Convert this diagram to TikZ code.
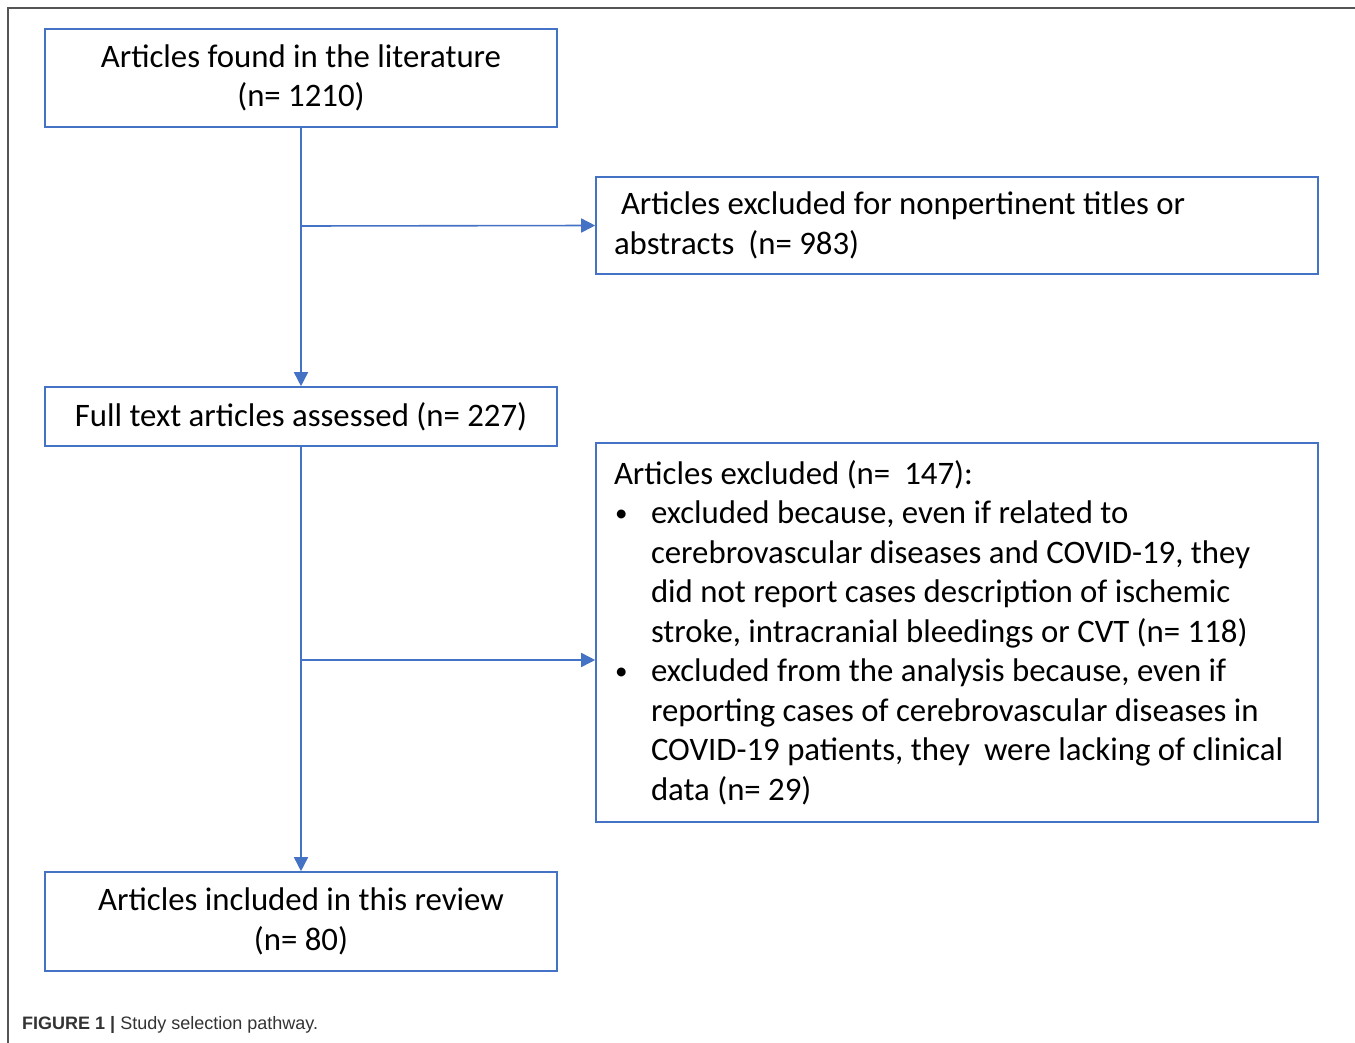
\documentclass[tikz,border=0pt]{standalone}
\usepackage{fontspec}
\setmainfont{Carlito}
\newfontfamily\capfont{Liberation Sans}
\usetikzlibrary{arrows.meta}
\definecolor{boxblue}{HTML}{4472C4}
\definecolor{framegray}{HTML}{555555}
\definecolor{captxt}{HTML}{333333}
\newcommand{\mybul}{\makebox[37pt][l]{\hspace*{1pt}\raisebox{2pt}{\fontsize{25pt}{25pt}\selectfont •}}}
\begin{document}
\begin{tikzpicture}[x=1pt,y=-1pt,
  box/.style={draw=boxblue, line width=1.6pt, inner sep=0pt, font=\fontsize{32.8pt}{39.5pt}\selectfont},
  cbox/.style={box, align=center},
  lbox/.style={box, align=flush left, inner xsep=18pt},
  arr/.style={draw=boxblue, line width=1.6pt, -{Triangle[length=14pt,width=14pt]}},
  conn/.style={draw=boxblue, line width=1.6pt}]
\useasboundingbox (0,0) rectangle (1355,1043);
% frame
\draw[framegray, line width=1.5pt] (1355,8) -- (8,8) -- (8,1043);
% boxes
\node[cbox, minimum width=512pt, minimum height=98pt] (a) at (301,78) {Articles found in the literature\\(n= 1210)};
\node[lbox, minimum width=722pt, minimum height=97pt, text width=686pt] (b) at (957,225.5) {\hspace*{7pt}Articles excluded for nonpertinent titles or\\abstracts\hspace*{14pt}(n= 983)};
\node[cbox, minimum width=512pt, minimum height=59pt] (c) at (301,416.5) {Full text articles assessed (n= 227)};
\node[lbox, minimum width=722pt, minimum height=379pt, text width=686pt] (d) at (957,632.5) {Articles excluded (n=\hspace*{14pt}147):\\
\mybul excluded because, even if related to\\
\hspace*{37pt}cerebrovascular diseases and COVID-19, they\\
\hspace*{37pt}did not report cases description of ischemic\\
\hspace*{37pt}stroke, intracranial bleedings or CVT (n= 118)\\
\mybul excluded from the analysis because, even if\\
\hspace*{37pt}reporting cases of cerebrovascular diseases in\\
\hspace*{37pt}COVID-19 patients, they\hspace*{14pt}were lacking of clinical\\
\hspace*{37pt}data (n= 29)};
\node[cbox, minimum width=512pt, minimum height=99pt] (e) at (301,921.5) {Articles included in this review\\(n= 80)};
% connectors
\coordinate (j1) at (302,226);
\coordinate (j2) at (302,660);
\draw[arr] (a.south) -- (c.north);
\draw[arr] (c.south) -- (e.north);
\draw[arr] (j1) -- (b.west);
\draw[arr] (j2) -- (j2 -| d.west);
% caption
\node[anchor=base west, inner sep=0pt, font=\capfont\fontsize{18pt}{22pt}\selectfont, text=captxt] (cap) at (22,1029) {\textbf{FIGURE 1 |} Study selection pathway.};
\end{tikzpicture}
\end{document}
